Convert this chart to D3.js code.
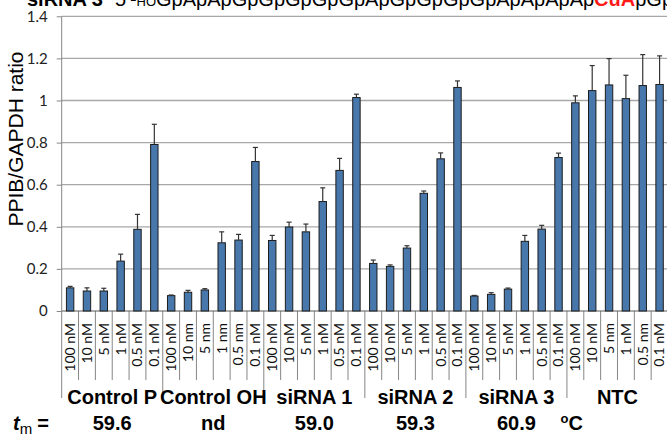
<!DOCTYPE html>
<html>
<head>
<meta charset="utf-8">
<script src="https://cdn.jsdelivr.net/npm/d3@7"></script>
<style>
  body { margin: 0; background: #fff; }
  svg { display: block; }
</style>
</head>
<body>
<div id="chart"></div>
<script>
// groups of six doses each
const groups = ["Control P", "Control OH", "siRNA 1", "siRNA 2", "siRNA 3", "NTC"];
const tmValues = ["59.6", "nd", "59.0", "59.3", "60.9"];

const doseLabels = [
  "100 nM", "10 nM", "5 nM", "1 nM", "0.5 nM", "0.1 nM",
  "100 nM", "10 nm", "5 nm", "1 nm", "0.5 nm", "0.1 nM",
  "100 nM", "10 nM", "5 nM", "1 nM", "0.5 nM", "0.1 nM",
  "100 nM", "10 nM", "5 nM", "1 nM", "0.5 nM", "0.1 nM",
  "100 nM", "10 nM", "5 nM", "1 nM", "0.5 nM", "0.1 nM",
  "100 nM", "10 nM", "5 nm", "1 nM", "0.5 nm", "0.1 nM"
];

const ratios = [
  0.110, 0.095, 0.095, 0.237, 0.388, 0.791,
  0.073, 0.089, 0.100, 0.324, 0.337, 0.710,
  0.335, 0.399, 0.376, 0.520, 0.668, 1.014,
  0.226, 0.212, 0.299, 0.559, 0.723, 1.062,
  0.071, 0.079, 0.104, 0.331, 0.389, 0.729,
  0.989, 1.047, 1.074, 1.009, 1.071, 1.076
];

// upper error bar length
const errors = [
  0.007, 0.015, 0.013, 0.033, 0.071, 0.096,
  0.003, 0.009, 0.006, 0.052, 0.027, 0.067,
  0.024, 0.023, 0.037, 0.065, 0.057, 0.016,
  0.016, 0.007, 0.011, 0.011, 0.028, 0.031,
  0.003, 0.008, 0.005, 0.028, 0.018, 0.021,
  0.033, 0.119, 0.125, 0.111, 0.147, 0.136
];

const yTicks = [0, 0.2, 0.4, 0.6, 0.8, 1, 1.2, 1.4];

const width = 667, height = 436;
const perGroup = 6;

const svg = d3.select("#chart").append("svg")
  .attr("width", width)
  .attr("height", height);

const x = d3.scaleBand()
  .domain(d3.range(ratios.length))
  .range([61.7, 668]);

const y = d3.scaleLinear()
  .domain([0, 1.4])
  .range([311, 16.3]);

const barW = x.bandwidth() * 0.44;
const gridColor = "#a8a8a8";
const axisColor = "#868686";

// title line, cut off at top of the image
const title = svg.append("text")
  .attr("x", 27)
  .attr("y", 6)
  .style("font-family", "'Liberation Sans', Arial, sans-serif")
  .style("font-size", "20px")
  .attr("fill", "#000");
title.append("tspan").attr("font-weight", "bold").text("siRNA 3");
title.append("tspan").attr("dx", 12).text("5'-");
title.append("tspan").style("font-size", "13px").text("HO");
title.append("tspan").text("GpApApGpGpGpGpGpApGpGpGpGpApApApAp");
title.append("tspan").attr("font-weight", "bold").attr("fill", "#ff1a1a").text("CuA");
title.append("tspan").text("pGpG");

// gridlines
svg.append("g")
  .selectAll("line")
  .data(yTicks.filter(d => d > 0))
  .join("line")
  .attr("x1", x.range()[0])
  .attr("x2", width)
  .attr("y1", d => y(d))
  .attr("y2", d => y(d))
  .attr("stroke", gridColor)
  .attr("stroke-width", 1.3);

// y axis
const yAxis = svg.append("g")
  .attr("transform", `translate(${x.range()[0]},0)`)
  .call(d3.axisLeft(y).tickValues(yTicks).tickSize(5).tickPadding(9)
    .tickFormat(d => d3.format("")(+d.toFixed(1))));
yAxis.select(".domain").remove();
yAxis.selectAll(".tick line").attr("stroke", axisColor);
yAxis.selectAll(".tick text")
  .style("font-family", "Lato, 'Open Sans', sans-serif")
  .style("font-size", "15px")
  .attr("fill", "#222");

svg.append("text")
  .attr("transform", `translate(23,139) rotate(-90)`)
  .attr("text-anchor", "middle")
  .style("font-family", "'Liberation Sans', Arial, sans-serif")
  .style("font-size", "21px")
  .attr("fill", "#000")
  .text("PPIB/GAPDH ratio");

// separators below the axis
const bounds = d3.range(ratios.length + 1);
svg.append("g")
  .selectAll("line")
  .data(bounds)
  .join("line")
  .attr("x1", i => i < ratios.length ? x(i) : x.range()[1])
  .attr("x2", i => i < ratios.length ? x(i) : x.range()[1])
  .attr("y1", i => i === 0 ? y(1.4) : y(0))
  .attr("y2", i => i % perGroup === 0 ? 398 : 380)
  .attr("stroke", axisColor)
  .attr("stroke-width", 1);

// x axis line
svg.append("line")
  .attr("x1", x.range()[0])
  .attr("x2", width)
  .attr("y1", y(0))
  .attr("y2", y(0))
  .attr("stroke", "#5a5a5a")
  .attr("stroke-width", 1.2);

// bars
svg.append("g")
  .selectAll("rect")
  .data(ratios)
  .join("rect")
  .attr("x", (d, i) => x(i) + (x.bandwidth() - barW) / 2)
  .attr("y", d => y(d))
  .attr("width", barW)
  .attr("height", d => y(0) - y(d))
  .attr("fill", "#4877ac")
  .attr("stroke", "#1c1c1c")
  .attr("stroke-width", 1);

// error bars
const err = svg.append("g")
  .attr("stroke", "#333")
  .attr("stroke-width", 1.2);
err.selectAll("line.v")
  .data(ratios)
  .join("line")
  .attr("class", "v")
  .attr("x1", (d, i) => x(i) + x.bandwidth() / 2)
  .attr("x2", (d, i) => x(i) + x.bandwidth() / 2)
  .attr("y1", d => y(d))
  .attr("y2", (d, i) => y(d + errors[i]));
err.selectAll("line.cap")
  .data(ratios)
  .join("line")
  .attr("class", "cap")
  .attr("x1", (d, i) => x(i) + x.bandwidth() / 2 - 2.5)
  .attr("x2", (d, i) => x(i) + x.bandwidth() / 2 + 2.5)
  .attr("y1", (d, i) => y(d + errors[i]))
  .attr("y2", (d, i) => y(d + errors[i]));

// dose labels
svg.append("g")
  .selectAll("text")
  .data(doseLabels)
  .join("text")
  .attr("transform", (d, i) => `translate(${x(i) + x.bandwidth() / 2},323) rotate(-90)`)
  .attr("text-anchor", "end")
  .attr("dy", "0.35em")
  .style("font-family", "Lato, 'Open Sans', sans-serif")
  .style("font-size", "14px")
  .attr("fill", "#111")
  .text(d => d);

// group labels
const groupCenter = g => x(g * perGroup) + x.bandwidth() * perGroup / 2;
svg.append("g")
  .selectAll("text")
  .data(groups)
  .join("text")
  .attr("x", (d, g) => groupCenter(g))
  .attr("y", 404)
  .attr("text-anchor", "middle")
  .style("font-family", "'Liberation Sans', Arial, sans-serif")
  .style("font-size", "20px")
  .style("font-weight", "bold")
  .text(d => d);

// melting temperature row
const tm = svg.append("text")
  .attr("x", 13)
  .attr("y", 430)
  .style("font-family", "'Liberation Sans', Arial, sans-serif")
  .style("font-size", "20px")
  .style("font-weight", "bold");
tm.append("tspan").style("font-style", "italic").text("t");
tm.append("tspan").attr("dy", 4).style("font-size", "15px").style("font-weight", "normal").text("m");
tm.append("tspan").attr("dy", -4).attr("dx", 5).text("=");

svg.append("g")
  .selectAll("text")
  .data(tmValues)
  .join("text")
  .attr("x", (d, g) => groupCenter(g))
  .attr("y", 430)
  .attr("text-anchor", "middle")
  .style("font-family", "'Liberation Sans', Arial, sans-serif")
  .style("font-size", "20px")
  .style("font-weight", "bold")
  .text(d => d);

const unit = svg.append("text")
  .attr("x", groupCenter(5) - 57)
  .attr("y", 430)
  .style("font-family", "'Liberation Sans', Arial, sans-serif")
  .style("font-size", "20px")
  .style("font-weight", "bold");
unit.append("tspan").attr("dy", -7).style("font-size", "13px").text("o");
unit.append("tspan").attr("dy", 7).text("C");
</script>
</body>
</html>
